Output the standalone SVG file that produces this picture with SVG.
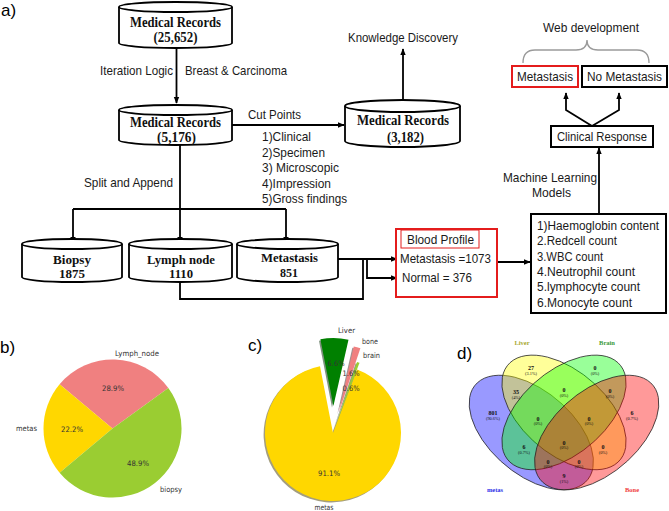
<svg xmlns="http://www.w3.org/2000/svg" width="669" height="511" viewBox="0 0 669 511">
<defs>
<marker id="ah" viewBox="0 0 10 10" refX="9" refY="5" markerWidth="7" markerHeight="7" markerUnits="userSpaceOnUse" orient="auto"><path d="M0,1 L10,5 L0,9 Z" fill="#000"/></marker>
</defs>
<style>
.cyl{fill:#fff;stroke:#000;stroke-width:1.8}
.ser{font-family:"Liberation Serif","Times New Roman",serif;font-weight:bold;font-size:14.5px;fill:#111;text-anchor:middle}
.ser2{font-family:"Liberation Serif","Times New Roman",serif;font-weight:bold;font-size:13.5px;fill:#111;text-anchor:middle}
.sans{font-family:"Liberation Sans",Arial,sans-serif;font-size:13px;fill:#1a1a1a}
.sm{font-size:12.5px}
.mid{text-anchor:middle}
.con{fill:none;stroke:#000;stroke-width:1.8}
.arr{marker-end:url(#ah)}
.box{fill:#fff;stroke:#000;stroke-width:2}
.rbox{fill:#fff;stroke:#e41c1c;stroke-width:2}
.pl{font-family:"Liberation Sans",Arial,sans-serif;font-size:17px;fill:#000}
.mp{font-family:"DejaVu Sans",sans-serif;font-size:7.5px;fill:#333}
.vn{font-family:"Liberation Serif",serif;font-weight:bold;font-size:6px;text-anchor:middle;fill:#111}
.vp{font-family:"Liberation Serif",serif;font-size:4.3px;text-anchor:middle;fill:#111}
.vl{font-family:"Liberation Serif",serif;font-weight:bold;font-size:6.5px;text-anchor:middle}
.ve{stroke:#222;stroke-width:0.8;fill-opacity:0.4;vector-effect:non-scaling-stroke}
</style>
<rect width="669" height="511" fill="#fff"/>

<!-- panel labels -->
<text class="pl" x="1" y="16">a)</text>
<text class="pl" x="0" y="353">b)</text>
<text class="pl" x="248" y="351">c)</text>
<text class="pl" x="457" y="359">d)</text>

<!-- connectors -->
<g id="connectors">
<path class="con arr" d="M176.5,48 V103"/>
<path class="con arr" d="M232,125 H344"/>
<path class="con arr" d="M403,100 V49"/>
<path class="con" d="M180,145 V209 M73,209 H286"/>
<path class="con arr" d="M73,209 V243"/>
<path class="con arr" d="M180,209 V243"/>
<path class="con arr" d="M286,209 V243"/>
<path class="con" d="M180,282 V299 H363 V259"/>
<path class="con arr" d="M338,259 H397"/>
<path class="con arr" d="M367,259 V278 H397"/>
<path class="con arr" d="M497,262 H530"/>
<path class="con arr" d="M599,214 V148"/>
<path class="con arr" d="M592,126 L566,110 V93"/>
<path class="con arr" d="M592,126 L619,110 V93"/>
<path d="M523,63 Q523,50 535,50 L576,50 Q587,50 587,40 Q587,50 598,50 L637,50 Q649,50 649,63" fill="none" stroke="#9a9a9a" stroke-width="1.3"/>
</g>

<!-- top flow nodes -->
<g id="rec1">
<path class="cyl" d="M119,7 V43 A56.5,5 0 0 0 232,43 V7"/>
<ellipse class="cyl" cx="175.5" cy="7" rx="56.5" ry="5"/>
<text class="ser" x="175.5" y="27" textLength="91" lengthAdjust="spacingAndGlyphs">Medical Records</text>
<text class="ser" x="175.5" y="41.5" textLength="44" lengthAdjust="spacingAndGlyphs">(25,652)</text>
</g>
<g id="lbl-iter">
<text class="sans" x="100" y="75" textLength="73" lengthAdjust="spacingAndGlyphs">Iteration Logic</text>
<text class="sans" x="185" y="75" textLength="102" lengthAdjust="spacingAndGlyphs">Breast &amp; Carcinoma</text>
</g>
<g id="rec2">
<path class="cyl" d="M119,110 V140 A56.5,5 0 0 0 232,140 V110"/>
<ellipse class="cyl" cx="175.5" cy="110" rx="56.5" ry="5"/>
<text class="ser" x="175.5" y="127" textLength="91" lengthAdjust="spacingAndGlyphs">Medical Records</text>
<text class="ser" x="176.5" y="141.5" textLength="39" lengthAdjust="spacingAndGlyphs">(5,176)</text>
</g>
<g id="cutpoints">
<text class="sans" x="248" y="119" textLength="53" lengthAdjust="spacingAndGlyphs">Cut Points</text>
<text class="sans" x="262" y="141" textLength="49" lengthAdjust="spacingAndGlyphs">1)Clinical</text>
<text class="sans" x="262" y="157" textLength="63" lengthAdjust="spacingAndGlyphs">2)Specimen</text>
<text class="sans" x="262" y="172" textLength="77" lengthAdjust="spacingAndGlyphs">3) Microscopic</text>
<text class="sans" x="262" y="188" textLength="69" lengthAdjust="spacingAndGlyphs">4)Impression</text>
<text class="sans" x="262" y="203" textLength="85" lengthAdjust="spacingAndGlyphs">5)Gross findings</text>
</g>
<g id="lbl-split">
<text class="sans" x="84" y="187" textLength="89" lengthAdjust="spacingAndGlyphs">Split and Append</text>
</g>
<g id="rec3">
<path class="cyl" d="M345,106 V141 A57.5,6 0 0 0 460,141 V106"/>
<ellipse class="cyl" cx="402.5" cy="106" rx="57.5" ry="6"/>
<text class="ser" x="403" y="125" textLength="92" lengthAdjust="spacingAndGlyphs">Medical Records</text>
<text class="ser" x="405.5" y="141.5" textLength="37" lengthAdjust="spacingAndGlyphs">(3,182)</text>
</g>
<g id="knowledge">
<text class="sans" x="348" y="42" textLength="110" lengthAdjust="spacingAndGlyphs">Knowledge Discovery</text>
</g>

<!-- bottom cylinders -->
<g id="biopsy">
<path class="cyl" d="M22,244 V277 A50,5 0 0 0 122,277 V244"/>
<ellipse class="cyl" cx="72" cy="244" rx="50" ry="5"/>
<text class="ser2" x="72" y="263.5" textLength="38" lengthAdjust="spacingAndGlyphs">Biopsy</text>
<text class="ser2" x="72" y="278" textLength="26" lengthAdjust="spacingAndGlyphs">1875</text>
</g>
<g id="lymph">
<path class="cyl" d="M129,244 V277 A51.5,5 0 0 0 232,277 V244"/>
<ellipse class="cyl" cx="180.5" cy="244" rx="51.5" ry="5"/>
<text class="ser2" x="181" y="263.5" textLength="68" lengthAdjust="spacingAndGlyphs">Lymph node</text>
<text class="ser2" x="181" y="278" textLength="24" lengthAdjust="spacingAndGlyphs">1110</text>
</g>
<g id="metastasis">
<path class="cyl" d="M237,244 V277 A50.5,5 0 0 0 338,277 V244"/>
<ellipse class="cyl" cx="287.5" cy="244" rx="50.5" ry="5"/>
<text class="ser2" x="289.5" y="261.5" textLength="57" lengthAdjust="spacingAndGlyphs">Metastasis</text>
<text class="ser2" x="289" y="276.5" textLength="18" lengthAdjust="spacingAndGlyphs">851</text>
</g>

<g id="blood">
<rect class="rbox" x="396" y="229" width="101" height="68"/>
<rect x="401" y="230" width="78" height="18" fill="none" stroke="#e41c1c" stroke-width="1"/>
<text class="sans" x="407" y="244" textLength="67" lengthAdjust="spacingAndGlyphs">Blood Profile</text>
<text class="sans" x="400" y="263" textLength="91" lengthAdjust="spacingAndGlyphs">Metastasis =1073</text>
<text class="sans" x="402" y="282" textLength="70" lengthAdjust="spacingAndGlyphs">Normal = 376</text>
</g>

<g id="features">
<rect class="box" x="531" y="214" width="135" height="99"/>
<text class="sans sm" x="537" y="229.5" textLength="122" lengthAdjust="spacingAndGlyphs">1)Haemoglobin content</text>
<text class="sans sm" x="537" y="245" textLength="80" lengthAdjust="spacingAndGlyphs">2.Redcell count</text>
<text class="sans sm" x="537" y="260.5" textLength="66" lengthAdjust="spacingAndGlyphs">3.WBC count</text>
<text class="sans sm" x="537" y="275.5" textLength="98" lengthAdjust="spacingAndGlyphs">4.Neutrophil count</text>
<text class="sans sm" x="537" y="291" textLength="103" lengthAdjust="spacingAndGlyphs">5.lymphocyte count</text>
<text class="sans sm" x="537" y="306.5" textLength="95" lengthAdjust="spacingAndGlyphs">6.Monocyte count</text>
</g>
<g id="ml">
<text class="sans" x="503" y="182" textLength="94" lengthAdjust="spacingAndGlyphs">Machine Learning</text>
<text class="sans" x="532" y="197" textLength="39" lengthAdjust="spacingAndGlyphs">Models</text>
</g>
<g id="clinical">
<rect class="box" x="551" y="126" width="102" height="21" stroke-width="1.8"/>
<text class="sans" x="557" y="141" textLength="90" lengthAdjust="spacingAndGlyphs">Clinical Response</text>
</g>
<g id="meta-out">
<rect class="rbox" x="512" y="66" width="66" height="21"/>
<text class="sans" x="517" y="81" textLength="56" lengthAdjust="spacingAndGlyphs">Metastasis</text>
</g>
<g id="nometa-out">
<rect class="box" x="582" y="66" width="85" height="21"/>
<text class="sans" x="587" y="81" textLength="75" lengthAdjust="spacingAndGlyphs">No Metastasis</text>
</g>
<g id="webdev">
<text class="sans" x="543" y="32" textLength="96" lengthAdjust="spacingAndGlyphs">Web development</text>
</g>

<!-- panel b pie -->
<g id="pie-b">
<path d="M112.5,428.5 L168.32,387.94 A69,69 0 0 0 59.6,384.2 Z" fill="#f08080"/>
<path d="M112.5,428.5 L59.6,384.2 A69,69 0 0 0 59.62,472.83 Z" fill="#ffd700"/>
<path d="M112.5,428.5 L59.62,472.83 A69,69 0 0 0 168.32,387.94 Z" fill="#9acd32"/>
<text class="mp" x="115" y="355.5" textLength="44" lengthAdjust="spacingAndGlyphs">Lymph_node</text>
<text class="mp" x="37" y="431" text-anchor="end" textLength="21" lengthAdjust="spacingAndGlyphs">metas</text>
<text class="mp" x="160" y="492" textLength="22" lengthAdjust="spacingAndGlyphs">biopsy</text>
<text class="mp mid" x="113" y="390.5" textLength="22" lengthAdjust="spacingAndGlyphs">28.9%</text>
<text class="mp mid" x="72" y="431.5" textLength="22" lengthAdjust="spacingAndGlyphs">22.2%</text>
<text class="mp mid" x="138" y="466" textLength="22" lengthAdjust="spacingAndGlyphs">48.9%</text>
</g>

<!-- panel c pie -->
<g id="pie-c">
<g transform="translate(-1.4,1.4)" opacity="0.5">
<path d="M333,433 L320,366.25 A68,68 0 1 0 357.15,369.43 Z" fill="#4c4000"/>
<path d="M333.4,406 L348.5,339.7 A68,68 0 0 0 320.4,339.25 Z" fill="#002600"/>
<path d="M338.68,412.78 L360.37,348.33 A68,68 0 0 0 353.74,346.47 Z" fill="#482626"/>
<path d="M335.36,426.41 L359.51,362.84 A68,68 0 0 0 357.05,361.96 Z" fill="#2e3d0f"/>
</g>
<path d="M333,433 L320,366.25 A68,68 0 1 0 357.15,369.43 Z" fill="#ffd700"/>
<path d="M333.4,406 L348.5,339.7 A68,68 0 0 0 320.4,339.25 Z" fill="#008000"/>
<path d="M338.68,412.78 L360.37,348.33 A68,68 0 0 0 353.74,346.47 Z" fill="#f08080"/>
<path d="M335.36,426.41 L359.51,362.84 A68,68 0 0 0 357.05,361.96 Z" fill="#9acd32"/>
<text class="mp" x="338" y="332.5" textLength="17" lengthAdjust="spacingAndGlyphs">Liver</text>
<text class="mp" x="362" y="343.5" textLength="16" lengthAdjust="spacingAndGlyphs">bone</text>
<text class="mp" x="363" y="357.5" textLength="17" lengthAdjust="spacingAndGlyphs">brain</text>
<text class="mp mid" x="336" y="365.5" textLength="17" lengthAdjust="spacingAndGlyphs">6.6%</text>
<text class="mp mid" x="351" y="375.5" textLength="17" lengthAdjust="spacingAndGlyphs">1.6%</text>
<text class="mp mid" x="351" y="390.5" textLength="17" lengthAdjust="spacingAndGlyphs">0.6%</text>
<text class="mp mid" x="329" y="476" textLength="22" lengthAdjust="spacingAndGlyphs">91.1%</text>
<text class="mp mid" x="324" y="509.5" textLength="19" lengthAdjust="spacingAndGlyphs">metas</text>
</g>

<!-- panel d venn -->
<g id="venn">
<g transform="matrix(218 0 0 -201 455 527)">
<ellipse class="ve" fill="#0000ff" rx="0.35" ry="0.2" transform="translate(0.35 0.47) rotate(135)"/>
<ellipse class="ve" fill="#ffff00" rx="0.35" ry="0.2" transform="translate(0.5 0.57) rotate(135)"/>
<ellipse class="ve" fill="#00ff00" rx="0.35" ry="0.2" transform="translate(0.5 0.57) rotate(45)"/>
<ellipse class="ve" fill="#ff0000" rx="0.35" ry="0.2" transform="translate(0.65 0.47) rotate(45)"/>
</g>
<text class="vl" x="522" y="344.5" fill="#a8a830">Liver</text>
<text class="vl" x="607" y="344.5" fill="#3a9a3a">Brain</text>
<text class="vl" x="495" y="492" fill="#3030e8">metas</text>
<text class="vl" x="632" y="492" fill="#f03c3c">Bone</text>
<text class="vn" x="531" y="370">27</text><text class="vp" x="531" y="375">(3.1%)</text>
<text class="vn" x="595" y="370">0</text><text class="vp" x="595" y="375">(0%)</text>
<text class="vn" x="516" y="394">35</text><text class="vp" x="516" y="399">(4%)</text>
<text class="vn" x="564" y="392">0</text><text class="vp" x="564" y="396.5">(0%)</text>
<text class="vn" x="610" y="393">0</text><text class="vp" x="610" y="398">(0%)</text>
<text class="vn" x="493" y="415">801</text><text class="vp" x="493" y="420">(90.6%)</text>
<text class="vn" x="538" y="421">0</text><text class="vp" x="538" y="425">(0%)</text>
<text class="vn" x="589" y="421">0</text><text class="vp" x="589" y="425">(0%)</text>
<text class="vn" x="632" y="414.5">6</text><text class="vp" x="632" y="419.5">(0.7%)</text>
<text class="vn" x="564" y="444.5">0</text><text class="vp" x="564" y="449">(0%)</text>
<text class="vn" x="524" y="449">6</text><text class="vp" x="524" y="454">(0.7%)</text>
<text class="vn" x="603" y="449">0</text><text class="vp" x="603" y="454">(0%)</text>
<text class="vn" x="548" y="463.5">0</text><text class="vp" x="548" y="467.5">(0%)</text>
<text class="vn" x="579" y="463.5">0</text><text class="vp" x="579" y="467.5">(0%)</text>
<text class="vn" x="564" y="478">9</text><text class="vp" x="564" y="483">(1%)</text>
</g>
</svg>
